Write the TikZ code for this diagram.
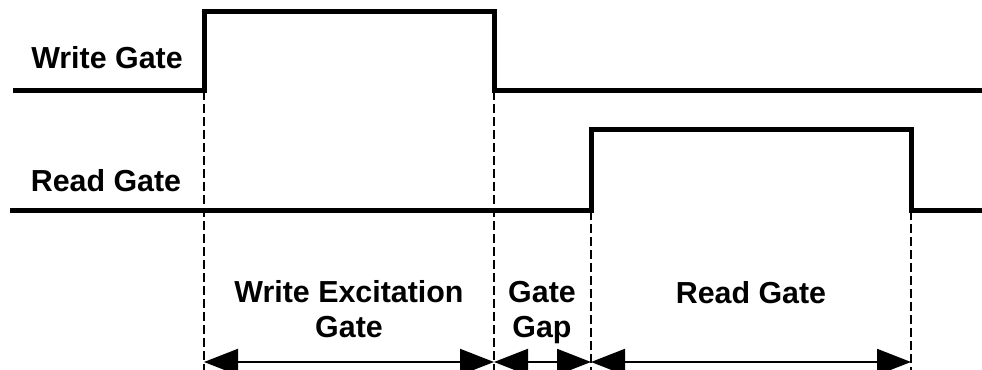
\documentclass[tikz,border=0pt]{standalone}
\usepackage{fontspec}
\setmainfont{Liberation Sans}
\usetikzlibrary{arrows.meta}
\begin{document}
\begin{tikzpicture}[x=0.75pt,y=-0.75pt,
  signal/.style={line width=3.75pt,line join=miter},
  guide/.style={line width=1.5pt,dash pattern=on 6.75pt off 3pt},
  span/.style={line width=1.5pt,{Triangle[length=25.5pt,width=19.5pt]}-{Triangle[length=25.5pt,width=19.5pt]}},
  lbl/.style={font=\fontsize{22.8pt}{26.25pt}\selectfont\bfseries,inner sep=0pt,align=center,anchor=base}]
\useasboundingbox (0,0) rectangle (982,370);
% signal corner points
\coordinate (w0) at (13,91);
\coordinate (w1) at (204,91);
\coordinate (w2) at (204,12);
\coordinate (w3) at (494,12);
\coordinate (w4) at (494,91);
\coordinate (w5) at (982,91);
\coordinate (r0) at (10,211);
\coordinate (r1) at (591,211);
\coordinate (r2) at (591,130);
\coordinate (r3) at (911,130);
\coordinate (r4) at (911,211);
\coordinate (r5) at (982,211);
% bottom ends of guides
\coordinate (g1) at (204,372);
\coordinate (g2) at (494,372);
\coordinate (g3) at (591,372);
\coordinate (g4) at (911,372);
\coordinate (a1) at (204,362);
\coordinate (a2) at (494,362);
\coordinate (a3) at (591,362);
\coordinate (a4) at (911,362);
% signals
\draw[signal] (w0) -- (w1) -- (w2) -- (w3) -- (w4) -- (w5);
\draw[signal] (r0) -- (r1) -- (r2) -- (r3) -- (r4) -- (r5);
% guides
\draw[guide] (w1) -- (g1);
\draw[guide] (w4) -- (g2);
\draw[guide] (r1) -- (g3);
\draw[guide] (r4) -- (g4);
% spans
\draw[span] (a1) -- (a2);
\draw[span] (a2) -- (a3);
\draw[span] (a3) -- (a4);
% labels
\node[lbl] (lw) at (107,69) {Write Gate};
\node[lbl] (lr) at (106,192) {Read Gate};
\node[lbl] (t1) at (349,338) {Write Excitation\\Gate};
\node[lbl] (t2) at (542,338) {Gate\\Gap};
\node[lbl] (t3) at (751,304) {Read Gate};
\end{tikzpicture}
\end{document}
